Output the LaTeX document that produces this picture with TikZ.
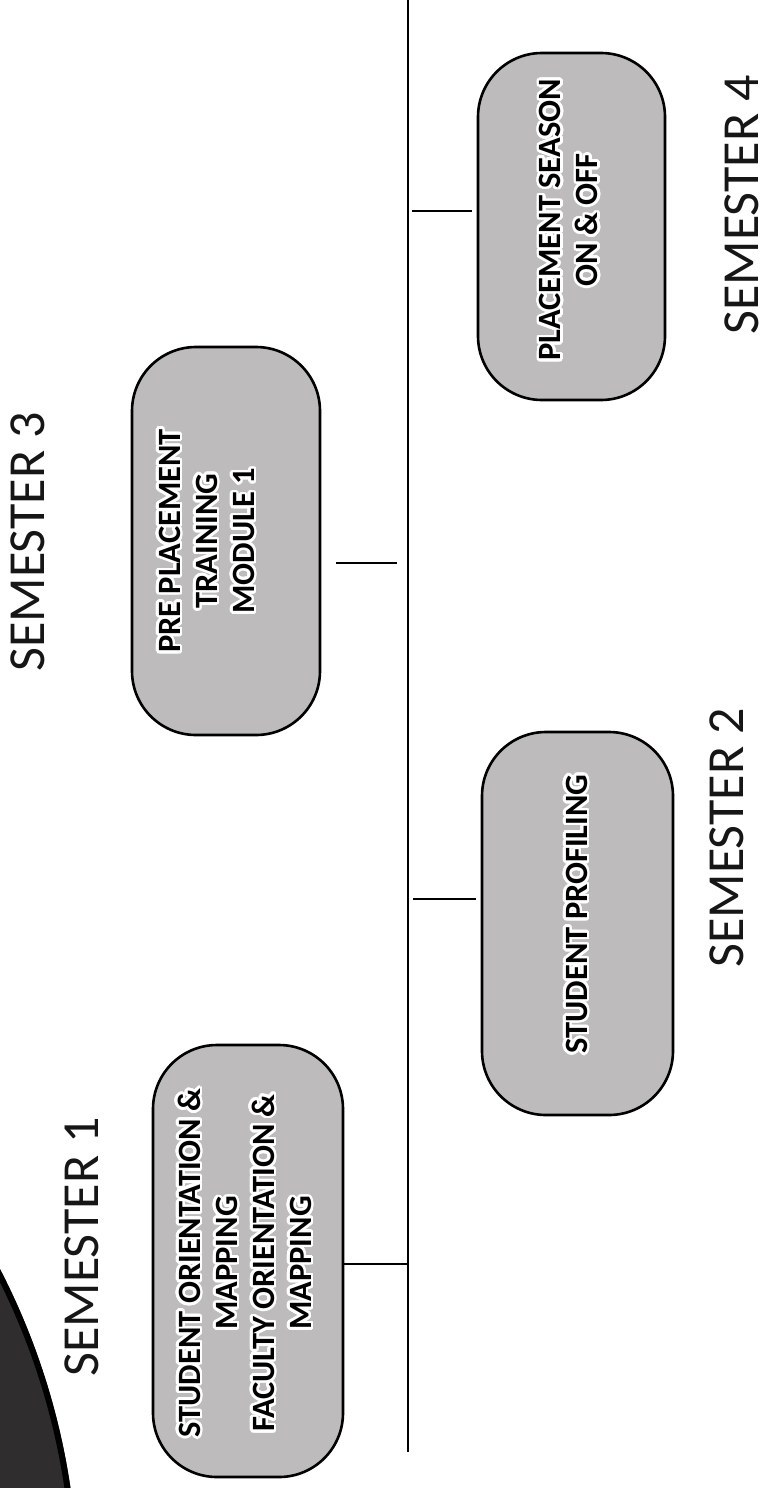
\documentclass[tikz,border=0pt]{standalone}
\usepackage{fontspec}
\setmainfont{Carlito}
\usepackage[copies]{contour}
\contourlength{2.6pt}
\contournumber{32}

\definecolor{boxgray}{RGB}{189,187,188}
\definecolor{labelink}{RGB}{22,22,22}
\definecolor{darkdisc}{RGB}{48,45,46}

\begin{document}
\begin{tikzpicture}[x=1pt,y=-1pt,
  pill/.style={draw=black, line width=2.6pt, fill=boxgray, rounded corners=64pt,
    rotate=90, inner sep=0pt},
  boxtext/.style={rotate=90, align=center, inner sep=0pt, text=black,
    font=\bfseries\fontsize{32.5}{37}\selectfont},
  semlabel/.style={rotate=90, inner sep=0pt, text=labelink,
    font=\fontsize{52}{60}\selectfont},
  timeline/.style={line width=2.8pt},
  tickline/.style={line width=2.4pt}]

\useasboundingbox (0,0) rectangle (763,1488);

% dark disc in the lower left corner
\begin{scope}
  \clip (0,0) rectangle (763,1488);
  \fill[darkdisc] (-624,1591) circle (702);
  \draw[black, line width=6pt] (-624,1591) circle (699);
\end{scope}

% activity boxes
\node[pill, minimum width=432pt, minimum height=190pt] (b1) at (248,1261) {};
\node[pill, minimum width=388pt, minimum height=188pt] (b2) at (226,541) {};
\node[pill, minimum width=383pt, minimum height=191pt] (b3) at (577.5,923.5) {};
\node[pill, minimum width=347pt, minimum height=187pt] (b4) at (571.5,226.5) {};

\node[boxtext] (t1) at (246,1263) {\contour{white}{STUDENT ORIENTATION \&}\\
  \contour{white}{MAPPING}\\ \contour{white}{FACULTY ORIENTATION \&}\\
  \contour{white}{MAPPING}};
\node[boxtext] (t2) at (208,541) {\contour{white}{PRE PLACEMENT}\\
  \contour{white}{TRAINING}\\ \contour{white}{MODULE 1}};
\node[boxtext] (t3) at (578,914) {\contour{white}{STUDENT PROFILING}};
\node[boxtext] (t4) at (570,220) {\contour{white}{PLACEMENT SEASON}\\
  \contour{white}{ON \& OFF}};

% semester labels
\node[semlabel] (s1) at (82,1247) {SEMESTER 1};
\node[semlabel] (s2) at (727,838) {SEMESTER 2};
\node[semlabel] (s3) at (28,542) {SEMESTER 3};
\node[semlabel] (s4) at (742,205) {SEMESTER 4};

% time line and its ticks
\coordinate (ltop) at (408,0);
\coordinate (lbot) at (408,1452);
\draw[timeline] (ltop) -- (lbot);

\coordinate (k1) at (408,1264);
\coordinate (k2) at (408,563);
\coordinate (k3) at (408,899);
\coordinate (k4) at (408,211);
\draw[tickline] (b1.south |- k1) -- (k1);
\draw[tickline, shorten <=15pt, shorten >=11pt] (b2.south |- k2) -- (k2);
\draw[tickline, shorten <=5pt, shorten >=5pt] (k3) -- (b3.north |- k3);
\draw[tickline, shorten <=4pt, shorten >=5pt] (k4) -- (b4.north |- k4);

\end{tikzpicture}
\end{document}
